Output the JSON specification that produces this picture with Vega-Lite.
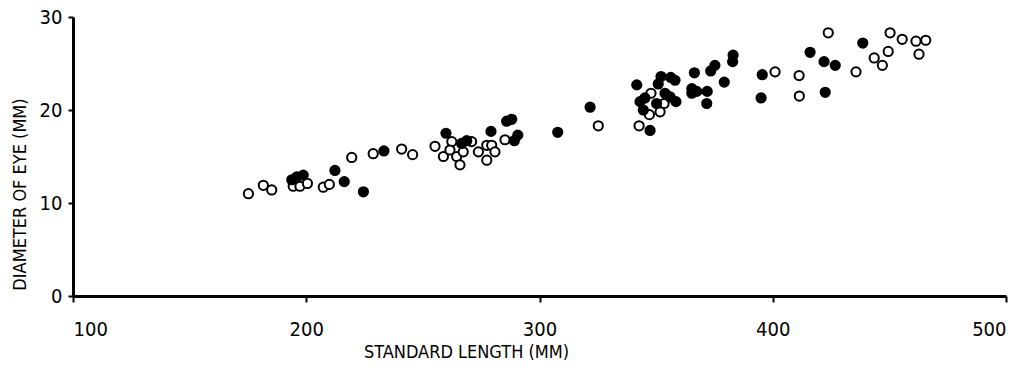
{
  "$schema": "https://vega.github.io/schema/vega-lite/v6.json",
  "width": 933,
  "height": 279,
  "autosize": {"type": "none"},
  "padding": {"left": 73, "top": 17, "right": 20, "bottom": 71},
  "background": "white",
  "config": {
    "view": {"stroke": null},
    "font": "DejaVu Sans Condensed"
  },
  "data": {
    "values": [
      {"sl": 175.2, "eye": 11.0, "type": "open"},
      {"sl": 181.6, "eye": 11.9, "type": "open"},
      {"sl": 185.2, "eye": 11.4, "type": "open"},
      {"sl": 194.4, "eye": 11.8, "type": "open"},
      {"sl": 197.3, "eye": 11.8, "type": "open"},
      {"sl": 200.5, "eye": 12.1, "type": "open"},
      {"sl": 207.3, "eye": 11.7, "type": "open"},
      {"sl": 209.9, "eye": 12.0, "type": "open"},
      {"sl": 219.5, "eye": 14.9, "type": "open"},
      {"sl": 228.7, "eye": 15.3, "type": "open"},
      {"sl": 240.9, "eye": 15.8, "type": "open"},
      {"sl": 245.6, "eye": 15.2, "type": "open"},
      {"sl": 255.2, "eye": 16.1, "type": "open"},
      {"sl": 262.4, "eye": 16.6, "type": "open"},
      {"sl": 258.8, "eye": 15.0, "type": "open"},
      {"sl": 261.6, "eye": 15.7, "type": "open"},
      {"sl": 264.5, "eye": 15.0, "type": "open"},
      {"sl": 265.9, "eye": 14.1, "type": "open"},
      {"sl": 267.3, "eye": 15.5, "type": "open"},
      {"sl": 270.9, "eye": 16.6, "type": "open"},
      {"sl": 273.8, "eye": 15.5, "type": "open"},
      {"sl": 277.4, "eye": 14.6, "type": "open"},
      {"sl": 277.4, "eye": 16.2, "type": "open"},
      {"sl": 279.5, "eye": 16.2, "type": "open"},
      {"sl": 280.9, "eye": 15.5, "type": "open"},
      {"sl": 285.2, "eye": 16.8, "type": "open"},
      {"sl": 325.2, "eye": 18.3, "type": "open"},
      {"sl": 342.7, "eye": 18.3, "type": "open"},
      {"sl": 347.8, "eye": 21.8, "type": "open"},
      {"sl": 347.1, "eye": 19.5, "type": "open"},
      {"sl": 353.4, "eye": 20.7, "type": "open"},
      {"sl": 351.7, "eye": 19.8, "type": "open"},
      {"sl": 401.0, "eye": 24.1, "type": "open"},
      {"sl": 411.3, "eye": 23.7, "type": "open"},
      {"sl": 411.4, "eye": 21.5, "type": "open"},
      {"sl": 423.8, "eye": 28.3, "type": "open"},
      {"sl": 435.7, "eye": 24.1, "type": "open"},
      {"sl": 443.5, "eye": 25.6, "type": "open"},
      {"sl": 447.0, "eye": 24.8, "type": "open"},
      {"sl": 449.5, "eye": 26.3, "type": "open"},
      {"sl": 450.3, "eye": 28.3, "type": "open"},
      {"sl": 455.5, "eye": 27.6, "type": "open"},
      {"sl": 461.4, "eye": 27.4, "type": "open"},
      {"sl": 465.6, "eye": 27.5, "type": "open"},
      {"sl": 462.7, "eye": 26.0, "type": "open"},
      {"sl": 193.8, "eye": 12.5, "type": "filled"},
      {"sl": 195.9, "eye": 12.8, "type": "filled"},
      {"sl": 198.7, "eye": 13.0, "type": "filled"},
      {"sl": 212.3, "eye": 13.5, "type": "filled"},
      {"sl": 216.3, "eye": 12.3, "type": "filled"},
      {"sl": 224.5, "eye": 11.2, "type": "filled"},
      {"sl": 233.3, "eye": 15.6, "type": "filled"},
      {"sl": 259.9, "eye": 17.5, "type": "filled"},
      {"sl": 266.6, "eye": 16.4, "type": "filled"},
      {"sl": 268.8, "eye": 16.7, "type": "filled"},
      {"sl": 279.2, "eye": 17.7, "type": "filled"},
      {"sl": 285.9, "eye": 18.8, "type": "filled"},
      {"sl": 288.1, "eye": 19.0, "type": "filled"},
      {"sl": 290.7, "eye": 17.3, "type": "filled"},
      {"sl": 289.2, "eye": 16.7, "type": "filled"},
      {"sl": 307.8, "eye": 17.6, "type": "filled"},
      {"sl": 321.7, "eye": 20.3, "type": "filled"},
      {"sl": 341.7, "eye": 22.7, "type": "filled"},
      {"sl": 347.4, "eye": 17.8, "type": "filled"},
      {"sl": 343.1, "eye": 20.9, "type": "filled"},
      {"sl": 345.2, "eye": 21.3, "type": "filled"},
      {"sl": 344.5, "eye": 20.0, "type": "filled"},
      {"sl": 350.9, "eye": 22.8, "type": "filled"},
      {"sl": 352.1, "eye": 23.6, "type": "filled"},
      {"sl": 350.2, "eye": 20.7, "type": "filled"},
      {"sl": 353.8, "eye": 21.8, "type": "filled"},
      {"sl": 356.3, "eye": 23.5, "type": "filled"},
      {"sl": 358.1, "eye": 23.2, "type": "filled"},
      {"sl": 356.0, "eye": 21.4, "type": "filled"},
      {"sl": 358.5, "eye": 20.9, "type": "filled"},
      {"sl": 366.4, "eye": 24.0, "type": "filled"},
      {"sl": 365.3, "eye": 22.3, "type": "filled"},
      {"sl": 367.4, "eye": 22.0, "type": "filled"},
      {"sl": 365.3, "eye": 21.8, "type": "filled"},
      {"sl": 371.9, "eye": 22.0, "type": "filled"},
      {"sl": 371.7, "eye": 20.7, "type": "filled"},
      {"sl": 373.4, "eye": 24.2, "type": "filled"},
      {"sl": 375.2, "eye": 24.8, "type": "filled"},
      {"sl": 382.8, "eye": 25.2, "type": "filled"},
      {"sl": 383.0, "eye": 25.9, "type": "filled"},
      {"sl": 379.2, "eye": 23.0, "type": "filled"},
      {"sl": 395.5, "eye": 23.8, "type": "filled"},
      {"sl": 395.0, "eye": 21.3, "type": "filled"},
      {"sl": 416.0, "eye": 26.2, "type": "filled"},
      {"sl": 422.0, "eye": 25.2, "type": "filled"},
      {"sl": 426.8, "eye": 24.8, "type": "filled"},
      {"sl": 422.5, "eye": 21.9, "type": "filled"},
      {"sl": 438.6, "eye": 27.2, "type": "filled"}
    ]
  },
  "mark": {"type": "point", "shape": "circle", "filled": false, "size": 85, "stroke": "black", "strokeWidth": 2, "opacity": 1},
  "encoding": {
    "x": {
      "field": "sl", "type": "quantitative",
      "scale": {"domain": [100, 500], "nice": false, "zero": false},
      "axis": {
        "title": "STANDARD LENGTH (MM)",
        "values": [100, 200, 300, 400, 500],
        "grid": false,
        "domainColor": "black", "domainWidth": 3,
        "tickColor": "black", "tickWidth": 2, "tickSize": 6,
        "labelFont": "DejaVu Sans Condensed", "labelFontSize": 20, "labelColor": "black",
        "labelBaseline": "top", "labelPadding": 17,
        "titleFont": "DejaVu Sans Condensed", "titleFontSize": 18, "titleFontWeight": "normal", "titleColor": "black",
        "titleX": 393, "titleY": 56, "titleBaseline": "middle", "titleAlign": "center", "titleAnchor": null
      }
    },
    "y": {
      "field": "eye", "type": "quantitative",
      "scale": {"domain": [0, 30], "nice": false},
      "axis": {
        "title": "DIAMETER OF EYE (MM)",
        "values": [0, 10, 20, 30],
        "grid": false,
        "domainColor": "black", "domainWidth": 3,
        "tickColor": "black", "tickWidth": 2, "tickSize": 5,
        "labelFont": "DejaVu Sans Condensed", "labelFontSize": 20, "labelColor": "black",
        "labelPadding": 6,
        "titleFont": "DejaVu Sans Condensed", "titleFontSize": 18, "titleFontWeight": "normal", "titleColor": "black",
        "titleX": -53, "titleY": 177, "titleAngle": -90, "titleBaseline": "middle", "titleAlign": "center"
      }
    },
    "fill": {
      "field": "type", "type": "nominal",
      "scale": {"domain": ["open", "filled"], "range": ["white", "black"]},
      "legend": null
    }
  }
}
